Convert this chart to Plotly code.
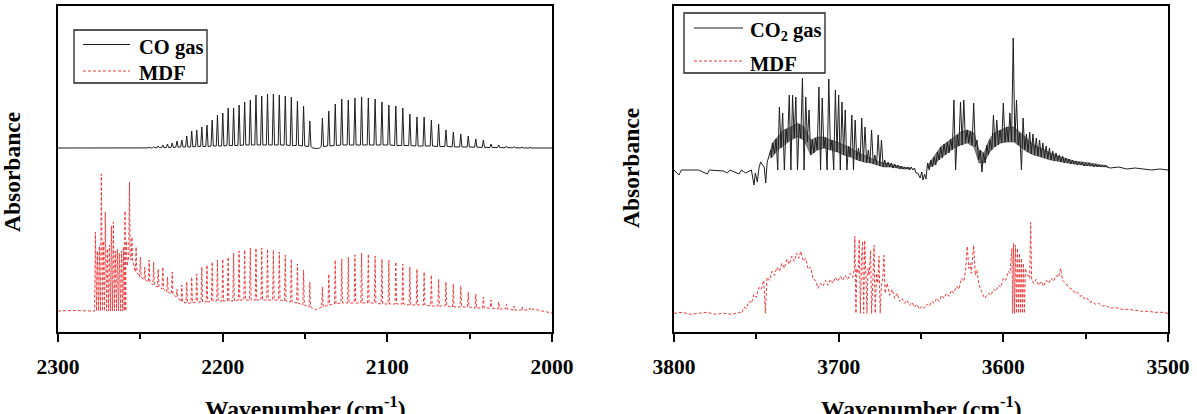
import plotly.graph_objects as go

# ---------------------------------------------------------------- data
# ---- left panel: CO region (2300-2000 cm-1), heights in arbitrary absorbance units
co_R_wn = [2147.08, 2150.86, 2154.60, 2158.30, 2161.97, 2165.60, 2169.20, 2172.76, 2176.28,
           2179.77, 2183.22, 2186.64, 2190.02, 2193.36, 2196.66, 2199.94, 2203.17, 2206.37,
           2209.53, 2212.66, 2215.75, 2218.80, 2221.82, 2224.80, 2227.74, 2230.65, 2233.52,
           2236.35, 2239.15, 2241.91, 2244.63, 2247.31, 2249.96, 2252.57, 2255.15]
co_P_wn = [2139.43, 2135.55, 2131.63, 2127.68, 2123.70, 2119.68, 2115.63, 2111.54, 2107.42,
           2103.27, 2099.08, 2094.86, 2090.61, 2086.32, 2082.00, 2077.65, 2073.26, 2068.85,
           2064.40, 2059.91, 2055.40, 2050.85, 2046.28, 2041.67, 2037.03, 2032.35, 2027.65,
           2022.91, 2018.15, 2013.35]

co_gas_R_peak = [27, 42, 47, 51, 52, 53, 54, 54, 52, 53, 48, 46, 43, 40, 40, 35, 33, 28, 23, 21,
                 18, 17, 12, 8, 7, 5, 4, 3, 2, 1.2, 0.8, 0.5, 0.3, 0.2, 0.1]
co_gas_R_valley = [1.5, 2, 2.5, 2.5, 3, 3, 3, 3, 3, 3, 3, 3, 2.5, 2.5, 2.5, 2, 2, 2, 1.5, 1.5,
                   1.5, 1, 1, 1, 0.8, 0.6, 0.5, 0.4, 0.3, 0.2, 0.1, 0, 0, 0, 0]
co_gas_P_peak = [30, 37, 44, 49, 48, 50, 51, 50, 49, 46, 43, 42, 40, 34, 31, 31, 28, 24, 18, 16,
                 14, 12, 9, 8, 4, 3, 2, 1.5, 1, 0.6]
co_gas_P_valley = [1.5, 2, 2.5, 3, 3, 3, 3, 3, 3, 3, 3, 2.5, 2.5, 2.5, 2, 2, 2, 1.5, 1.5, 1.2,
                   1, 1, 0.8, 0.6, 0.5, 0.4, 0.3, 0.2, 0.1, 0]
co_gas_base = [(2300, 0), (2262, 0), (2145.3, 0), (2144.0, -0.5), (2142.5, -0.5), (2141.2, 0),
               (2000, 0)]

mdf_co_R_peak = [29, 41, 47, 52, 56, 59, 61, 62, 63, 63, 63, 61, 60, 58, 54, 52, 51, 49, 46, 44,
                 37, 34, 29, 26, 22, 39, 34, 44, 42, 49, 51, 44, 54, 64, 74]
mdf_co_R_valley = [4, 6, 8, 9, 10, 11, 11, 11, 11, 11, 11, 11, 11, 10, 10, 10, 10, 10, 9, 9,
                   9, 8, 8, 9, 14, 17, 19, 22, 24, 26, 29, 31, 34, 39, 51]
mdf_co_P_peak = [24, 37, 51, 52, 54, 56, 58, 57, 55, 52, 51, 49, 47, 44, 42, 39, 36, 32, 29, 27,
                 25, 19, 17, 14, 11, 9, 7, 5, 4, 3]
mdf_co_P_valley = [4, 6, 7, 8, 8, 8, 8, 8, 8, 7, 7, 7, 7, 6, 6, 6, 5, 5, 5, 4, 4, 4, 3, 3, 3,
                   2, 2, 1, 1, 1]
mdf_co_sharp_wn = [2277.3, 2276.1, 2274.9, 2273.7, 2272.5, 2271.3, 2270.0, 2268.8, 2267.6,
                   2266.4, 2265.2, 2264.0, 2262.8, 2261.5, 2260.3, 2259.3, 2258.4, 2256.6]
mdf_co_sharp_peak = [79, 60, 65, 137, 70, 99, 62, 66, 85, 89, 60, 62, 58, 60, 64, 100, 70, 129]
mdf_co_sharp_valley = [0, 0, 0, 0, 0, 0, 0, 0, 0, 0, 0, 0, 0, 0, 0, 0, 45, 55]
mdf_co_base = [(2300, 0), (2290, 0.5), (2280, 0), (2278.0, 0), (2145.6, 3), (2143.3, 1),
               (2141.0, 3), (2011, 2), (2006, 0), (2000, -2)]

# ---- right panel: CO2 region (3800-3500 cm-1)
co2_gas_pre = [(3800, 0), (3797.0, -5), (3795.5, 0), (3785, 0), (3779.8, -4), (3778.5, 0),
               (3770, -1), (3767.6, -3), (3766, 0), (3760.5, -4), (3759, 0), (3756.5, -3),
               (3753, 0), (3751.4, -15), (3750.6, -3), (3749.4, -12), (3748.4, 2), (3747.4, 8),
               (3746.2, 5), (3745.2, 3), (3744.3, -13), (3743.4, 8), (3742.3, 14), (3741.3, 20)]
# band 1: line maxima at even wavenumbers 3740..3654, minima at odd 3741..3653
co2_gas_b1_top = [27, 31, 63, 57, 41, 75, 75, 73, 46, 92, 73, 60, 30, 32, 83, 72, 33, 91, 30, 80,
                  75, 68, 60, 24, 55, 50, 22, 52, 43, 20, 40, 15, 35, 30, 10, 8, 7, 6, 5, 4, 3, 3,
                  3, 2]
co2_gas_b1_bot = [12, 16, 0, 22, 0, 28, 0, 32, 0, 32, 0, 28, 15, 17, 20, 0, 22, 0, 20, 0, 18, 0,
                  15, 0, 13, 0, 10, 9, 8, 7, 7, 6, 5, 4, 3, 3, 3, 2, 2, 1, 1, 1, 0, 0, -3]
co2_gas_mid = [(3652, -3), (3650.5, -8), (3649.5, -2), (3648.8, -10), (3647.8, -4), (3647, -9)]
# band 2: maxima at even 3646..3538, minima at odd 3645..3537
co2_gas_b2_top = [7, 10, 13, 18, 23, 26, 28, 31, 70, 35, 68, 70, 40, 39, 67, 30, 20, 17, 25, 30,
                  55, 50, 40, 67, 43, 57, 132, 70, 37, 52, 36, 38, 36, 32, 30, 27, 24, 22, 19, 17,
                  15, 14, 12, 11, 10, 9, 8, 8, 7, 7, 6, 6, 5, 5, 5]
co2_gas_b2_bot = [0, 3, 5, 10, 12, 15, 17, 20, 0, 24, 25, 27, 27, 25, 23, 10, -2, 7, 15, 20, 23,
                  25, 27, 28, 28, 28, 28, 25, 0, 20, 18, 16, 15, 14, 13, 12, 11, 10, 9, 9, 8, 7,
                  7, 6, 6, 5, 5, 4, 4, 4, 3, 3, 3, 3, 3]
co2_gas_post = [(3535, 2), (3530, 3), (3525, 1), (3520, 2), (3515, 1), (3510, 0), (3505, 1),
                (3500, 0)]
# unresolved (dense) core of the CO2 gas bands: upper / lower edge
co2_gas_dense_wn = [3741.3, 3740.3, 3737.2, 3733.2, 3729.1, 3725.1, 3721.0, 3717.0, 3713.0,
                    3708.9, 3704.9, 3700.8, 3696.8, 3692.7, 3688.7, 3684.6, 3680.6, 3676.5,
                    3672.5, 3668.4, 3664.4, 3660.3, 3656.3]
co2_gas_dense_hi = [20, 27, 33, 40, 43, 47, 43, 30, 33, 33, 30, 28, 25, 22, 18, 15, 12, 9, 7, 6,
                    4, 3, 2]
co2_gas_dense_lo = [16, 13, 20, 25, 30, 33, 30, 15, 20, 22, 20, 18, 15, 13, 10, 8, 7, 5, 3, 3,
                    2, 1, 1]
co2_gas_dense2_wn = [3646.2, 3642.1, 3638.1, 3634.0, 3630.0, 3625.9, 3621.9, 3617.8, 3614.8,
                     3611.7, 3608.7, 3605.7, 3601.6, 3597.6, 3593.5, 3589.5, 3585.4, 3581.4,
                     3577.3, 3571.3, 3565.2, 3557.1, 3547.0, 3536.8]
co2_gas_dense2_hi = [4, 13, 23, 28, 33, 38, 40, 37, 20, 17, 30, 37, 40, 43, 43, 37, 30, 25, 22,
                     17, 13, 9, 7, 4]
co2_gas_dense2_lo = [2, 5, 12, 17, 22, 25, 27, 23, 7, 7, 17, 23, 27, 28, 28, 23, 18, 15, 13, 10,
                     8, 6, 4, 3]

mdf_co2 = [(3800, 0), (3795, 1), (3790, -1), (3785, 0), (3780, 1), (3775, -1), (3770, 0),
           (3765, -1), (3760, 1), (3759, 0), (3757.5, 6), (3756, 5), (3754.5, 12), (3753, 10),
           (3751.5, 19), (3750, 16), (3748.5, 26), (3747, 24), (3745.5, 33), (3744.5, 0),
           (3743.5, 36), (3742, 33), (3740.5, 42), (3739, 38), (3737.5, 46), (3736, 42),
           (3734.5, 50), (3733, 45), (3731.5, 54), (3730, 49), (3728.5, 57), (3727, 52),
           (3725.5, 60), (3724.2, 55), (3723, 62), (3721.5, 52), (3720, 55), (3718.5, 44),
           (3717, 46), (3715.5, 34), (3714, 33), (3712.5, 25), (3711, 30), (3709.5, 27),
           (3708, 33), (3706.5, 28), (3705, 34), (3703.5, 30), (3702, 36), (3700.5, 32),
           (3699, 37), (3697.5, 33), (3696, 38), (3694.5, 34), (3693, 40), (3691.5, 36),
           (3690.5, 44), (3690.2, 77), (3689.5, 0), (3689, 45), (3688.2, 40), (3687.5, 74),
           (3686.8, 0), (3686.2, 50), (3685.5, 72), (3684.8, 0), (3684.2, 73), (3683.5, 40),
           (3682.8, 0), (3682.2, 45), (3681.5, 38), (3680.6, 63), (3680, 0), (3679.2, 35),
           (3678.5, 68), (3677.8, 0), (3677, 40), (3676.2, 30), (3675.5, 57), (3674.8, 0),
           (3674, 28), (3673.2, 35), (3672.5, 58), (3671.8, 20), (3670.5, 30), (3669, 18),
           (3667.5, 24), (3666, 15), (3664.5, 20), (3663, 12), (3661.5, 15), (3660, 10),
           (3658.5, 13), (3657, 8), (3655.5, 11), (3654, 6), (3652.5, 9), (3651, 4),
           (3649.5, 7), (3648, 5), (3646.5, 9), (3645, 7), (3643.5, 12), (3642, 10),
           (3640.5, 15), (3639, 12), (3637.5, 18), (3636, 15), (3634.5, 20), (3633, 17),
           (3631.5, 23), (3630, 20), (3628.5, 27), (3627, 24), (3625.5, 35), (3624, 32),
           (3623, 42), (3621.9, 67), (3621, 45), (3620, 50), (3619.5, 40), (3618, 68),
           (3617, 38), (3616, 43), (3615, 30), (3614, 25), (3613, 20), (3612, 17), (3611, 15),
           (3610.5, 17), (3609, 20), (3607.5, 18), (3606, 24), (3604.5, 22), (3603, 28),
           (3601.5, 26), (3600, 35), (3598.5, 33), (3597, 42), (3596, 40), (3595.5, 50),
           (3594.8, 65), (3594.3, 0), (3593.8, 70), (3593.2, 0), (3592.6, 68), (3592, 0),
           (3591.4, 65), (3590.8, 0), (3590.2, 60), (3589.6, 0), (3589, 55), (3588.4, 0),
           (3587.8, 50), (3587.2, 0), (3586.6, 45), (3586, 40), (3585, 38), (3584, 35),
           (3583.4, 91), (3582.8, 33), (3581.5, 30), (3580, 34), (3578.5, 28), (3577, 32),
           (3575.5, 27), (3574, 33), (3572.5, 30), (3571, 35), (3569.5, 32), (3568, 38),
           (3566.5, 36), (3565.2, 45), (3564, 33), (3562.5, 30), (3561, 28), (3559.5, 25),
           (3558, 24), (3556.5, 20), (3555, 21), (3553.5, 17), (3552, 18), (3550.5, 14),
           (3549, 15), (3547.5, 11), (3546, 12), (3544, 9), (3542, 10), (3540, 7), (3538, 8),
           (3535, 5), (3532, 6), (3528, 4), (3524, 4), (3520, 3), (3516, 2), (3512, 2),
           (3508, 1), (3504, 1), (3500, 0)]

legend_left = ["CO gas", "MDF"]
legend_right = ["CO<sub>2</sub> gas", "MDF"]

# vertical offsets of the stacked spectra
OFF_CO_GAS, OFF_CO_MDF = 184, 21
OFF_CO2_GAS, OFF_CO2_MDF = 162, 18.7

# ---------------------------------------------------------------- helpers
def lines_to_points(base, wn, peak, valley, hw):
    assert len(wn) == len(peak) == len(valley)
    pts = list(base)
    for w, p, v in zip(wn, peak, valley):
        pts += [(w + hw, v), (w, p), (w - hw, v)]
    pts.sort(key=lambda t: -t[0])
    return pts


def band_points(top_start, top, bot_start, bot):
    top_wn = list(range(top_start, top_start - 2 * len(top), -2))
    bot_wn = list(range(bot_start, bot_start - 2 * len(bot), -2))
    return list(zip(top_wn, top)) + list(zip(bot_wn, bot))


def xy(pts, off):
    pts = sorted(pts, key=lambda t: -t[0])
    return [p[0] for p in pts], [p[1] + off for p in pts]


def polygon(wn, hi, lo, off):
    assert len(wn) == len(hi) == len(lo)
    return (list(wn) + list(wn)[::-1],
            [h + off for h in hi] + [l + off for l in lo][::-1])


co_gas_pts = lines_to_points(co_gas_base, co_R_wn + co_P_wn,
                             co_gas_R_peak + co_gas_P_peak,
                             co_gas_R_valley + co_gas_P_valley, 0.7)
co_mdf_pts = lines_to_points(mdf_co_base, co_R_wn + co_P_wn + mdf_co_sharp_wn,
                             mdf_co_R_peak + mdf_co_P_peak + mdf_co_sharp_peak,
                             mdf_co_R_valley + mdf_co_P_valley + mdf_co_sharp_valley, 0.45)
assert len(co2_gas_b1_top) == 44 and len(co2_gas_b1_bot) == 45
assert len(co2_gas_b2_top) == 55 and len(co2_gas_b2_bot) == 55
co2_gas_pts = (co2_gas_pre + band_points(3740, co2_gas_b1_top, 3741, co2_gas_b1_bot)
               + co2_gas_mid + band_points(3646, co2_gas_b2_top, 3645, co2_gas_b2_bot)
               + co2_gas_post)

BLACK = "#1e1e1e"
RED = "#f03a3a"
SERIF = "Liberation Serif, Times New Roman, serif"

fig = go.Figure()
x, y = xy(co_gas_pts, OFF_CO_GAS)
fig.add_trace(go.Scatter(x=x, y=y, mode="lines", name="CO gas", xaxis="x", yaxis="y",
                         line=dict(color=BLACK, width=1)))
x, y = xy(co_mdf_pts, OFF_CO_MDF)
fig.add_trace(go.Scatter(x=x, y=y, mode="lines", name="MDF", xaxis="x", yaxis="y",
                         line=dict(color=RED, width=1, dash="3px,2px")))
for wn, hi, lo in [(co2_gas_dense_wn, co2_gas_dense_hi, co2_gas_dense_lo),
                   (co2_gas_dense2_wn, co2_gas_dense2_hi, co2_gas_dense2_lo)]:
    px_, py_ = polygon(wn, hi, lo, OFF_CO2_GAS)
    fig.add_trace(go.Scatter(x=px_, y=py_, mode="lines", fill="toself",
                             fillcolor="rgba(35,35,35,0.55)",
                             line=dict(color="rgba(35,35,35,0.6)", width=0.8), xaxis="x2",
                             yaxis="y2", hoverinfo="skip", name="CO<sub>2</sub> gas"))
x, y = xy(co2_gas_pts, OFF_CO2_GAS)
fig.add_trace(go.Scatter(x=x, y=y, mode="lines", name="CO<sub>2</sub> gas", xaxis="x2",
                         yaxis="y2", line=dict(color=BLACK, width=1)))
x, y = xy(mdf_co2, OFF_CO2_MDF)
fig.add_trace(go.Scatter(x=x, y=y, mode="lines", name="MDF", xaxis="x2", yaxis="y2",
                         line=dict(color=RED, width=1, dash="3px,2px")))

W, H = 1197, 414
ydom = [1 - 332 / H, 1 - 6 / H]
tickfont = dict(family=SERIF, size=21.5, color="black", weight="bold")


def xaxis(dom, rng, anchor):
    return dict(domain=dom, range=rng, anchor=anchor, dtick=100, tick0=0, ticks="outside",
                ticklen=8, tickwidth=2, tickcolor="black", ticklabelstandoff=6,
                minor=dict(dtick=50, ticks="outside", ticklen=5, tickwidth=2, tickcolor="black"),
                showline=True, linewidth=2, linecolor="black", mirror=True, showgrid=False,
                zeroline=False, tickfont=tickfont, fixedrange=True, automargin=False)


def yaxis(anchor):
    return dict(domain=ydom, range=[0, 326], anchor=anchor, showticklabels=False, ticks="",
                showline=True, linewidth=2, linecolor="black", mirror=True, showgrid=False,
                zeroline=False, fixedrange=True, automargin=False)


legfont = dict(family=SERIF, size=20.5, color="black", weight="bold")
titlefont = dict(family=SERIF, size=23.5, color="black", weight="bold")


def px(xp):
    return xp / W


def py(yp):
    return 1 - yp / H


shapes, annotations = [], []
# hand-placed legend boxes (box, sample lines, labels)
for (bx0, by0, bx1, by1), lx0, lx1, ys, tys, tx, names in [
        ((74, 30, 207, 83), 83, 130, (44.5, 71), (47, 73), 137, legend_left),
        ((684, 13, 825, 73), 694, 743, (28, 61), (31.5, 64), 748, legend_right)]:
    shapes.append(dict(type="rect", xref="paper", yref="paper", x0=px(bx0), x1=px(bx1),
                       y0=py(by1), y1=py(by0), line=dict(color="#222", width=1.3),
                       fillcolor="white", layer="above"))
    shapes.append(dict(type="line", xref="paper", yref="paper", x0=px(lx0), x1=px(lx1),
                       y0=py(ys[0]), y1=py(ys[0]), line=dict(color=BLACK, width=1),
                       layer="above"))
    shapes.append(dict(type="line", xref="paper", yref="paper", x0=px(lx0), x1=px(lx1),
                       y0=py(ys[1]), y1=py(ys[1]), line=dict(color=RED, width=1,
                                                            dash="3px,2px"), layer="above"))
    for name, ty in zip(names, tys):
        annotations.append(dict(text=name, x=px(tx), y=py(ty), xref="paper", yref="paper",
                                showarrow=False, xanchor="left", yanchor="middle",
                                font=legfont))

for cx in (305, 921):
    annotations.append(dict(text="Wavenumber (cm<sup>-1</sup>)", x=px(cx), y=py(406.5),
                            xref="paper", yref="paper", showarrow=False, xanchor="center",
                            yanchor="middle", font=titlefont))
for cx, cy in ((12, 172), (631, 168)):
    annotations.append(dict(text="Absorbance", x=px(cx), y=py(cy), xref="paper", yref="paper",
                            showarrow=False, textangle=-90, xanchor="center",
                            yanchor="middle", font=titlefont))

fig.update_layout(
    width=W, height=H, margin=dict(l=0, r=0, t=0, b=0, autoexpand=False),
    paper_bgcolor="white", plot_bgcolor="white", showlegend=False,
    xaxis=xaxis([58 / W, 552 / W], [2300, 2000], "y"),
    yaxis=yaxis("x"),
    xaxis2=xaxis([674 / W, 1168 / W], [3800, 3500], "y2"),
    yaxis2=yaxis("x2"),
    shapes=shapes, annotations=annotations,
)

fig.write_html("out.html")
